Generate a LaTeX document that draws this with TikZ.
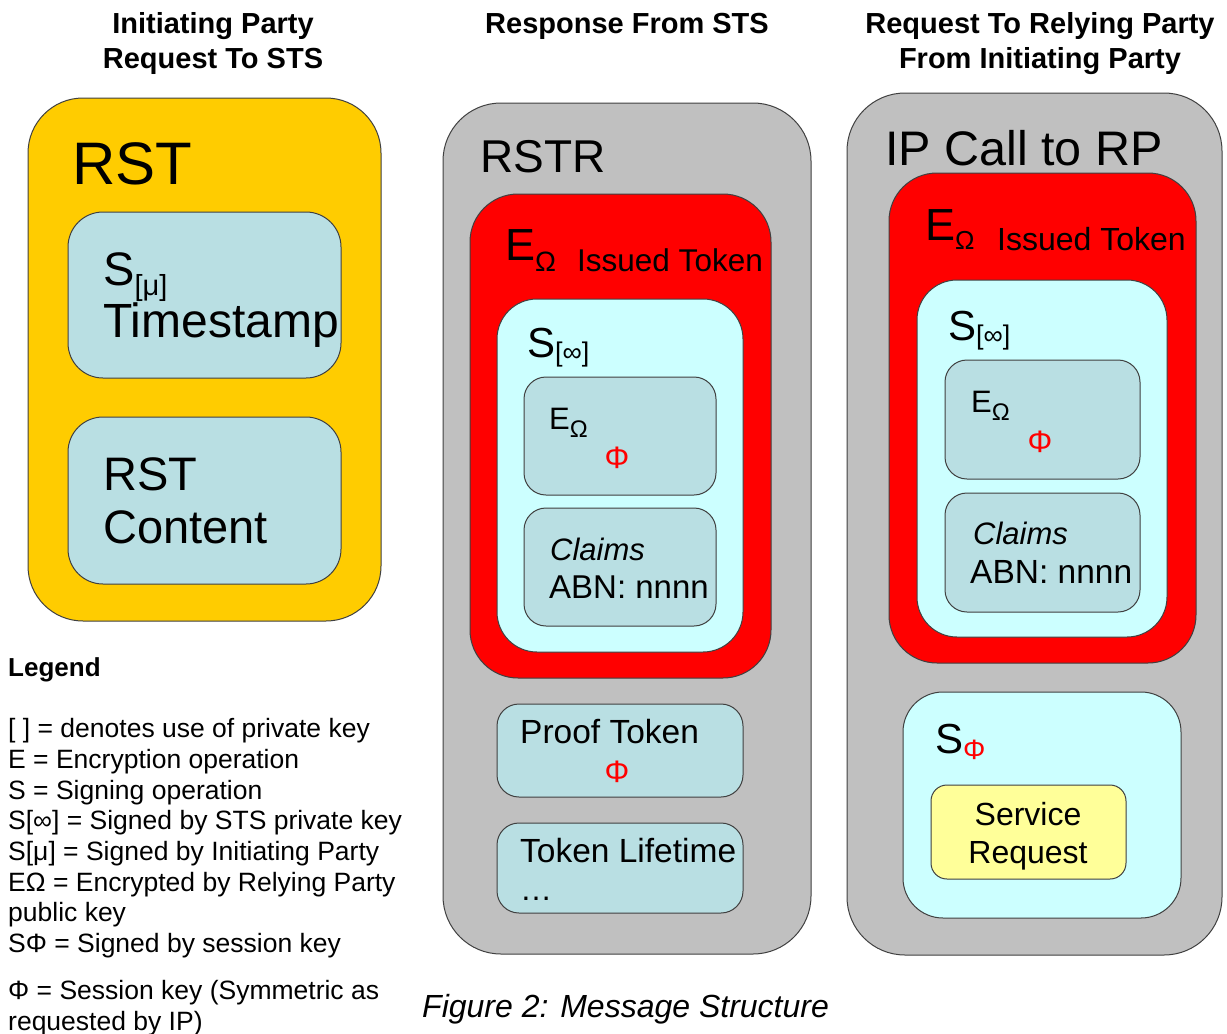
\documentclass[tikz,border=0pt]{standalone}
\usepackage{fontspec}
\setmainfont{Liberation Sans}
\usetikzlibrary{positioning,fit}

\definecolor{rstgold}{HTML}{FFCC00}
\definecolor{shellgrey}{HTML}{C0C0C0}
\definecolor{tokenred}{HTML}{FF0000}
\definecolor{signcyan}{HTML}{CCFFFF}
\definecolor{partblue}{HTML}{B9DFE3}
\definecolor{reqyellow}{HTML}{FFFF99}

\newcommand{\txtsize}[2]{\fontsize{#1}{#2}\selectfont}
\newcommand{\subkey}[3]{\raisebox{-#1pt}{\fontsize{#2}{#2}\selectfont #3}}

\begin{document}
\begin{tikzpicture}[x=1pt, y=-1pt,
  frame/.style={draw=black!75, line width=1pt, inner sep=0pt},
  shell/.style={frame, fill=shellgrey, rounded corners=58pt},
  rstbox/.style={frame, fill=rstgold, rounded corners=55pt},
  tokenbox/.style={frame, fill=tokenred, rounded corners=48pt},
  signbox/.style={frame, fill=signcyan, rounded corners=40pt},
  partbox/.style={frame, fill=partblue, rounded corners=22pt},
  reqbox/.style={frame, fill=reqyellow, rounded corners=16pt},
  lbl/.style={inner sep=0pt, anchor=base west},
  title/.style={inner sep=0pt, anchor=base, align=center, font=\bfseries\txtsize{29}{35}},
  keyphi/.style={inner sep=0pt, anchor=base, text=tokenred, font=\txtsize{31}{31}}]
\useasboundingbox (0,0) rectangle (1227,1034);

\node[title] (hdr-ip) at (213,68) {Initiating Party\\Request To STS};
\node[title] (hdr-sts) at (627,33) {Response From STS};
\node[title] (hdr-rp) at (1040,68) {Request To Relying Party\\From Initiating Party};

\node[rstbox, fit={(28,98) (381,621)}] (rst) {};
\node[lbl, font=\txtsize{60}{60}] (rst-name) at (72,184) {RST};
\node[partbox, rounded corners=35pt, fit={(68,212) (341,378)}] (stamp) {};
\node[lbl, font=\txtsize{47}{47}] (stamp-sig) at (103,285) {S\subkey{10}{29}{[μ]}};
\node[lbl, font=\txtsize{48}{48}] (stamp-name) at (103,337) {Timestamp};
\node[partbox, rounded corners=35pt, fit={(68,417) (341,584)}] (body) {};
\node[lbl, font=\txtsize{47}{47}] (body-name) at (103,490) {RST};
\node[lbl, font=\txtsize{47}{47}] (body-text) at (103,543) {Content};

\node[shell, fit={(443,103) (811,954)}] (rstr) {};
\node[lbl, font=\txtsize{46}{46}] (rstr-name) at (480,172) {RSTR};
\node[tokenbox, fit={(470,194) (771,678)}] (tok) {};
\node[lbl, font=\txtsize{45}{45}] (tok-enc) at (505,260) {E\subkey{11}{28}{Ω}};
\node[lbl, font=\txtsize{31.5}{31.5}] (tok-name) at (577,271) {Issued Token};
\node[signbox, fit={(497,299) (743,652)}] (tok-sig) {};
\node[lbl, font=\txtsize{42}{42}] (tok-sig-name) at (527,357) {S\subkey{4}{27}{[∞]}};
\node[partbox, fit={(524,377) (716,495)}] (tok-key) {};
\node[lbl, font=\txtsize{31}{31}] (tok-key-enc) at (549,429) {E\subkey{8}{24}{Ω}};
\node[keyphi] (tok-key-phi) at (617,468) {Φ};
\node[partbox, fit={(524,508) (716,626)}] (tok-claims) {};
\node[lbl, font=\itshape\txtsize{31}{31}] (tok-claims-name) at (550,560) {Claims};
\node[lbl, font=\txtsize{33}{33}] (tok-claims-abn) at (549,598) {ABN: nnnn};
\node[partbox, fit={(497,704) (743,797)}] (proof) {};
\node[lbl, font=\txtsize{33.5}{33.5}] (proof-name) at (520,743) {Proof Token};
\node[keyphi] (proof-phi) at (617,782) {Φ};
\node[partbox, fit={(497,823) (743,913)}] (life) {};
\node[lbl, font=\txtsize{33.5}{33.5}] (life-name) at (520,862) {Token Lifetime};
\node[lbl, font=\txtsize{32}{32}] (life-more) at (520,900) {…};

\node[shell, fit={(847,93) (1222,955)}] (call) {};
\node[lbl, font=\txtsize{48.5}{48.5}] (call-name) at (885,165) {IP Call to RP};
\node[tokenbox, fit={(889,173) (1196,663)}] (tok2) {};
\node[lbl, font=\txtsize{45}{45}] (tok2-enc) at (925,240) {E\subkey{9}{26}{Ω}};
\node[lbl, font=\txtsize{32}{32}] (tok2-name) at (997,250) {Issued Token};
\node[signbox, fit={(917,280) (1167,637)}] (tok2-sig) {};
\node[lbl, font=\txtsize{42}{42}] (tok2-sig-name) at (948,340) {S\subkey{4}{27}{[∞]}};
\node[partbox, fit={(945,360) (1140,479)}] (tok2-key) {};
\node[lbl, font=\txtsize{31}{31}] (tok2-key-enc) at (971,412) {E\subkey{8}{24}{Ω}};
\node[keyphi] (tok2-key-phi) at (1040,452) {Φ};
\node[partbox, fit={(945,493) (1140,612)}] (tok2-claims) {};
\node[lbl, font=\itshape\txtsize{31}{31}] (tok2-claims-name) at (973,544) {Claims};
\node[lbl, font=\txtsize{33.5}{33.5}] (tok2-claims-abn) at (970,583) {ABN: nnnn};
\node[signbox, fit={(903,692) (1181,918)}] (sess) {};
\node[lbl, font=\txtsize{42}{42}] (sess-name) at (935,753) {S\subkey{6}{28}{\color{tokenred}Φ}};
\node[reqbox, fit={(931,785) (1126,879)}] (svc) {};
\node[inner sep=0pt, anchor=base, font=\txtsize{32}{32}] (svc-top) at (1028,825) {Service};
\node[inner sep=0pt, anchor=base, font=\txtsize{32}{32}] (svc-bot) at (1028,863) {Request};

\node[lbl, font=\bfseries\txtsize{26}{26}] (legend) at (8,676) {Legend};
\node[lbl, align=left, font=\txtsize{26.5}{30.7}] (legend-keys) at (8,1030) {[ ] = denotes use of private key\\E = Encryption operation\\S = Signing operation\\S[∞] = Signed by STS private key\\S[μ] = Signed by Initiating Party\\EΩ = Encrypted by Relying Party\\public key\\SΦ = Signed by session key\\[16pt]Φ = Session key (Symmetric as\\requested by IP)};

\node[lbl, font=\itshape\txtsize{32}{32}] (caption) at (422,1017) {Figure 2: Message Structure};
\end{tikzpicture}
\end{document}
